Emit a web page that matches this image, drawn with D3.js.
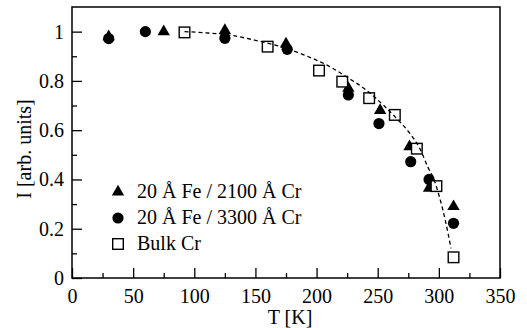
<!DOCTYPE html>
<html>
<head>
<meta charset="utf-8">
<script src="https://cdn.jsdelivr.net/npm/d3@7"></script>
<style>
  body { margin: 0; background: #fff; }
  text { font-family: "Liberation Serif", "Times New Roman", serif; fill: #000; }
</style>
</head>
<body>
<svg id="chart" width="527" height="328"></svg>
<script>
// 20 A Fe / 2100 A Cr (triangles)
const tempFe2100 = [30, 75, 125, 175, 226, 252, 276, 292, 312];
const intFe2100 = [0.98, 1.0, 1.005, 0.95, 0.77, 0.68, 0.533, 0.365, 0.29];
// 20 A Fe / 3300 A Cr (circles)
const tempFe3300 = [30, 60, 125, 176, 226, 251, 277, 292, 312];
const intFe3300 = [0.972, 1.0, 0.973, 0.928, 0.743, 0.627, 0.472, 0.40, 0.222];
// Bulk Cr (open squares)
const tempBulk = [92, 160, 202, 221, 243, 264, 282, 298, 312];
const intBulk = [0.997, 0.939, 0.842, 0.797, 0.73, 0.662, 0.525, 0.373, 0.084];
// dashed guide curve
const tempFit = [92, 110, 130, 150, 170, 190, 210, 225, 240, 255, 265, 275, 285, 291, 296, 301, 305, 310];
const intFit = [1.0, 0.995, 0.985, 0.965, 0.94, 0.905, 0.86, 0.815, 0.765, 0.70, 0.65, 0.595, 0.52, 0.45, 0.40, 0.32, 0.24, 0.12];

const xTicks = [0, 50, 100, 150, 200, 250, 300, 350];
const yTicks = [0, 0.2, 0.4, 0.6, 0.8, 1];
const legendLabels = ["20 Å Fe / 2100 Å Cr", "20 Å Fe / 3300 Å Cr", "Bulk Cr"];

const svg = d3.select("#chart");
const mLeft = 72, mRight = 500, mTop = 7, mBottom = 278;

const x = d3.scaleLinear().domain([0, 350]).range([mLeft, mRight]);
const y = d3.scaleLinear().domain([0, 1.1]).range([mBottom, mTop]);

const fontSize = 20;
const serif = '"Liberation Serif", "Times New Roman", serif';

// axes with inward ticks
const xAxis = d3.axisBottom(x).tickValues(xTicks).tickSize(-10).tickPadding(11).tickFormat(d3.format("d"));
const xMinor = d3.axisBottom(x).tickValues(d3.range(25, 350, 50)).tickSize(-5).tickFormat("");
const yAxis = d3.axisLeft(y).tickValues(yTicks).tickSize(-10).tickPadding(8).tickFormat(d => d === 0 || d === 1 ? d3.format("d")(d) : d3.format(".1f")(d));
const yMinor = d3.axisLeft(y).tickValues(d3.range(0.1, 1.1, 0.2)).tickSize(-5).tickFormat("");

function styleAxis(g) {
  g.select(".domain").remove();
  g.attr("font-family", null).attr("font-size", null);
  g.selectAll("line").attr("stroke", "#000").attr("stroke-width", 1.3);
  g.selectAll("text").style("font-size", fontSize + "px").style("font-family", serif);
}

svg.append("g").attr("transform", `translate(0,${mBottom})`).call(xAxis).call(styleAxis);
svg.append("g").attr("transform", `translate(0,${mBottom})`).call(xMinor).call(styleAxis);
svg.append("g").attr("transform", `translate(${mLeft},0)`).call(yAxis).call(styleAxis);
svg.append("g").attr("transform", `translate(${mLeft},0)`).call(yMinor).call(styleAxis);

svg.append("rect")
  .attr("x", mLeft).attr("y", mTop)
  .attr("width", mRight - mLeft).attr("height", mBottom - mTop)
  .attr("fill", "none").attr("stroke", "#000").attr("stroke-width", 1.5);

// markers
const triPath = d3.symbol().type(d3.symbolTriangle).size(66);
const plot = svg.append("g");

plot.selectAll(".tri").data(d3.zip(tempFe2100, intFe2100)).enter()
  .append("path").attr("class", "tri")
  .attr("d", triPath)
  .attr("transform", d => `translate(${x(d[0])},${y(d[1])})`)
  .attr("fill", "#000");

plot.selectAll(".circ").data(d3.zip(tempFe3300, intFe3300)).enter()
  .append("circle").attr("class", "circ")
  .attr("cx", d => x(d[0])).attr("cy", d => y(d[1]))
  .attr("r", 5.6).attr("fill", "#000");

plot.selectAll(".sq").data(d3.zip(tempBulk, intBulk)).enter()
  .append("rect").attr("class", "sq")
  .attr("x", d => x(d[0]) - 5.3).attr("y", d => y(d[1]) - 5.3)
  .attr("width", 10.6).attr("height", 10.6)
  .attr("fill", "#fff").attr("stroke", "#000").attr("stroke-width", 1.4);

// dashed curve on top
const line = d3.line().x(d => x(d[0])).y(d => y(d[1])).curve(d3.curveMonotoneX);
plot.append("path")
  .datum(d3.zip(tempFit, intFit))
  .attr("d", line)
  .attr("fill", "none").attr("stroke", "#000")
  .attr("stroke-width", 1.3).attr("stroke-dasharray", "4,3");

// legend
const legend = svg.append("g");
const lx = 118, ly = [192, 218, 244];
legend.append("path").attr("d", triPath).attr("transform", `translate(${lx},${ly[0]})`).attr("fill", "#000");
legend.append("circle").attr("cx", lx).attr("cy", ly[1]).attr("r", 5.6).attr("fill", "#000");
legend.append("rect").attr("x", lx - 5.3).attr("y", ly[2] - 5.3).attr("width", 10.6).attr("height", 10.6)
  .attr("fill", "#fff").attr("stroke", "#000").attr("stroke-width", 1.4);
legendLabels.forEach((t, i) => {
  legend.append("text").attr("x", 137).attr("y", ly[i] + 6)
    .style("font-size", fontSize + "px").text(t);
});

// axis titles
svg.append("text").attr("x", (mLeft + mRight) / 2 + 4).attr("y", 324)
  .attr("text-anchor", "middle").style("font-size", fontSize + "px").text("T [K]");
svg.append("text").attr("transform", "translate(31,149) rotate(-90)")
  .attr("text-anchor", "middle").style("font-size", fontSize + "px").text("I [arb. units]");
</script>
</body>
</html>
